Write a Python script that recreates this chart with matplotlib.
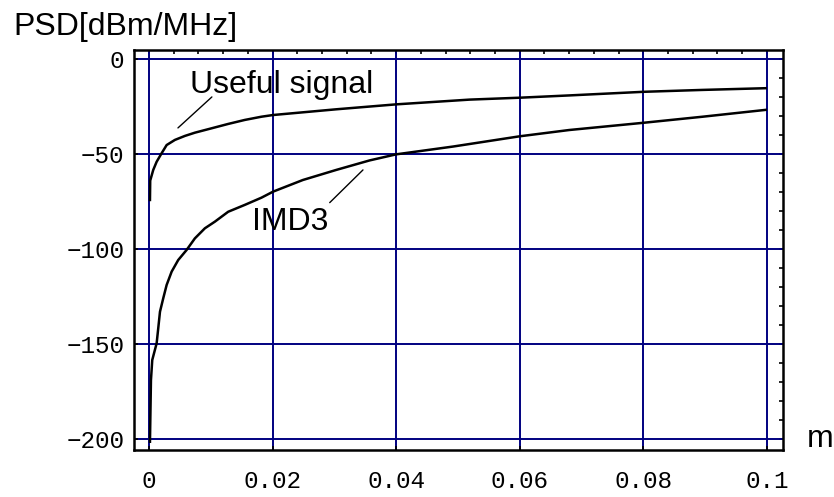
import numpy as np
import matplotlib.pyplot as plt
from matplotlib.ticker import MultipleLocator

# modulation index m and power spectral density levels
m_useful = [0.00016, 0.0002, 0.00069, 0.00124, 0.00205, 0.00286, 0.0042,
            0.00582, 0.00743, 0.01013, 0.01282, 0.0155, 0.0182, 0.0201,
            0.0303, 0.040, 0.0519, 0.060, 0.068, 0.080, 0.0896, 0.0998]
psd_useful = [-74.2, -64.0, -58.4, -54.1, -49.6, -45.3, -42.6,
              -40.5, -38.8, -36.5, -34.2, -32.1, -30.4, -29.5,
              -26.5, -23.9, -21.4, -20.4, -19.2, -17.3, -16.3, -15.4]

m_imd3 = [0.00016, 0.00032, 0.00053, 0.00124, 0.0015, 0.00178, 0.00231,
          0.00286, 0.00367, 0.00473, 0.00609, 0.00743, 0.00905, 0.01067,
          0.01282, 0.0155, 0.0182, 0.0201, 0.0249, 0.0303, 0.0357, 0.040,
          0.0492, 0.060, 0.068, 0.080, 0.0896, 0.0998]
psd_imd3 = [-201.4, -169.0, -158.4, -149.6, -141.7, -133.0, -125.9,
            -118.9, -111.9, -105.8, -100.5, -94.4, -89.1, -85.6,
            -80.4, -76.8, -73.0, -69.8, -63.7, -58.4, -53.4, -50.2,
            -46.1, -40.7, -37.4, -33.6, -30.4, -26.8]

xticks = [0, 0.02, 0.04, 0.06, 0.08, 0.1]
xticklabels = ['0', '0.02', '0.04', '0.06', '0.08', '0.1']
yticks = [0, -50, -100, -150, -200]
yticklabels = ['0', '\u221250', '\u2212100', '\u2212150', '\u2212200']

label_font = 'Liberation Sans'
tick_font = 'Liberation Mono'

fig = plt.figure(figsize=(8.34, 4.97), dpi=100)
ax = fig.add_axes([0.1607, 0.0936, 0.9388 - 0.1607, 0.8994 - 0.0936])

ax.set_xlim(-0.00242, 0.1026)
ax.set_ylim(-206.0, 4.7)

ax.set_xticks(xticks)
ax.set_xticklabels(xticklabels, fontfamily=tick_font, fontsize=17.5)
ax.set_yticks(yticks)
ax.set_yticklabels(yticklabels, fontfamily=tick_font, fontsize=17.5)
ax.tick_params(axis='x', direction='in', length=3, width=1.2, pad=14)
ax.tick_params(axis='y', direction='in', length=3, width=1.2, pad=7)

ax.grid(True, color='#000080', linewidth=1.4)
ax.set_axisbelow(True)
for s in ax.spines.values():
    s.set_linewidth(1.8)
    s.set_color('black')

# fine ticks along the top and right frame edges
top = ax.secondary_xaxis('top')
top.xaxis.set_major_locator(MultipleLocator(0.004))
top.tick_params(direction='in', length=3, width=1.2, labeltop=False)
top.spines['top'].set_visible(False)
right = ax.secondary_yaxis('right')
right.yaxis.set_major_locator(MultipleLocator(10))
right.tick_params(direction='in', length=3, width=1.2, labelright=False)
right.spines['right'].set_visible(False)

ax.plot(m_useful, psd_useful, color='black', linewidth=1.8)
ax.plot(m_imd3, psd_imd3, color='black', linewidth=1.8)

# curve labels with leader lines
ax.annotate('', xy=(0.00469, -36.3), xytext=(0.01018, -20.0),
            arrowprops=dict(arrowstyle='-', color='black', lw=1.0,
                            shrinkA=0, shrinkB=0))
ax.text(0.00663, -17.9, 'Useful signal', fontfamily=label_font,
        fontsize=23, ha='left', va='baseline')
ax.annotate('', xy=(0.03463, -58.4), xytext=(0.02925, -75.6),
            arrowprops=dict(arrowstyle='-', color='black', lw=1.0,
                            shrinkA=0, shrinkB=0))
ax.text(0.01665, -90.0, 'IMD3', fontfamily=label_font,
        fontsize=23, ha='left', va='baseline')

fig.text(13 / 834, 1 - 35 / 497, 'PSD[dBm/MHz]', fontfamily=label_font,
         fontsize=23, ha='left', va='baseline')
fig.text(807 / 834, 1 - 447 / 497, 'm', fontfamily=label_font,
         fontsize=23, ha='left', va='baseline')

fig.savefig('out.png', dpi=100)
